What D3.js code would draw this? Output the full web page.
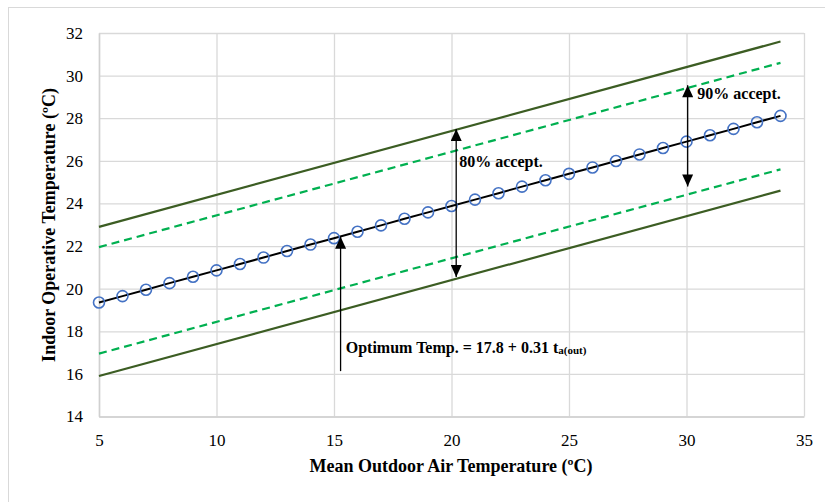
<!DOCTYPE html>
<html>
<head>
<meta charset="utf-8">
<script src="https://cdn.jsdelivr.net/npm/d3@7"></script>
<style>
  body { margin: 0; background: #fff; }
  svg text { font-family: "Liberation Serif", "Times New Roman", serif; }
</style>
</head>
<body>
<svg id="chart" width="825" height="502"></svg>
<script>
// data
var outdoorT = [5, 6, 7, 8, 9, 10, 11, 12, 13, 14, 15, 16, 17, 18, 19, 20, 21, 22, 23, 24, 25, 26, 27, 28, 29, 30, 31, 32, 33, 34];
var optimumT = [19.35, 19.65, 19.95, 20.26, 20.56, 20.86, 21.16, 21.46, 21.77, 22.07, 22.37, 22.67, 22.97, 23.28, 23.58,
                23.88, 24.18, 24.48, 24.79, 25.09, 25.39, 25.69, 25.99, 26.30, 26.60, 26.90, 27.20, 27.50, 27.81, 28.11];
var bandX = [5, 34];
var upper80 = [22.9, 31.6];
var upper90 = [21.95, 30.6];
var lower90 = [16.95, 25.6];
var lower80 = [15.9, 24.6];
var xTicks = [5, 10, 15, 20, 25, 30, 35];
var yTicks = [14, 16, 18, 20, 22, 24, 26, 28, 30, 32];

var svg = d3.select("#chart");

// outer frame
svg.append("rect")
  .attr("x", 8.5).attr("y", 7.5)
  .attr("width", 830).attr("height", 520)
  .attr("fill", "none").attr("stroke", "#d9d9d9");

var plotL = 99, plotT = 33, plotR = 804, plotB = 416.5;

var x = d3.scaleLinear().domain([5, 35]).range([plotL, plotR]);
var y = d3.scaleLinear().domain([14, 32]).range([plotB, plotT]);

// gridlines
svg.append("g")
  .attr("transform", "translate(0," + plotB + ")")
  .call(d3.axisBottom(x).tickValues(xTicks).tickSize(-(plotB - plotT)).tickFormat(""))
  .call(function(g) {
    g.select(".domain").remove();
    g.selectAll("line").attr("stroke", "#d9d9d9").attr("stroke-width", 1.3);
  });

svg.append("g")
  .attr("transform", "translate(" + plotL + ",0)")
  .call(d3.axisLeft(y).tickValues(yTicks).tickSize(-(plotR - plotL)).tickFormat(""))
  .call(function(g) {
    g.select(".domain").remove();
    g.selectAll("line").attr("stroke", "#d9d9d9").attr("stroke-width", 1.3);
  });

// axes with labels
var xAxis = svg.append("g")
  .attr("transform", "translate(0," + plotB + ")")
  .call(d3.axisBottom(x).tickValues(xTicks).tickSize(0).tickPadding(17));
var yAxis = svg.append("g")
  .attr("transform", "translate(" + plotL + ",0)")
  .call(d3.axisLeft(y).tickValues(yTicks).tickSize(0).tickPadding(16));

[xAxis, yAxis].forEach(function(a) {
  a.select(".domain").attr("stroke", "#d0d0d0").attr("stroke-width", 1.5);
  a.selectAll("text")
    .style("font-family", "'Liberation Serif', 'Times New Roman', serif")
    .style("font-size", "17px")
    .attr("fill", "#000");
});

// band lines
var line = d3.line()
  .x(function(d) { return x(d[0]); })
  .y(function(d) { return y(d[1]); });

function band(vals, color, dash) {
  svg.append("path")
    .datum(bandX.map(function(v, i) { return [v, vals[i]]; }))
    .attr("d", line)
    .attr("fill", "none")
    .attr("stroke", color)
    .attr("stroke-width", 2.2)
    .attr("stroke-dasharray", dash);
}

band(upper80, "#3c5d23", null);
band(lower80, "#3c5d23", null);
band(upper90, "#00b050", "8,5");
band(lower90, "#00b050", "8,5");

// optimum line and markers
var optData = outdoorT.map(function(v, i) { return [v, optimumT[i]]; });

svg.append("path")
  .datum(optData)
  .attr("d", line)
  .attr("fill", "none")
  .attr("stroke", "#000")
  .attr("stroke-width", 2);

svg.selectAll("circle.opt")
  .data(optData)
  .enter()
  .append("circle")
  .attr("class", "opt")
  .attr("cx", function(d) { return x(d[0]); })
  .attr("cy", function(d) { return y(d[1]); })
  .attr("r", 5.5)
  .attr("fill", "none")
  .attr("stroke", "#4472c4")
  .attr("stroke-width", 1.6);

// arrowheads
svg.append("defs").append("marker")
  .attr("id", "head")
  .attr("viewBox", "0 0 12 11")
  .attr("refX", 12).attr("refY", 5.5)
  .attr("markerUnits", "userSpaceOnUse")
  .attr("markerWidth", 13).attr("markerHeight", 11)
  .attr("orient", "auto-start-reverse")
  .append("path")
  .attr("d", "M0,0 L12,5.5 L0,11 Z")
  .attr("fill", "#000");

function arrow(xv, y1, y2, both) {
  var p = svg.append("line")
    .attr("x1", x(xv)).attr("x2", x(xv))
    .attr("y1", y(y1)).attr("y2", y(y2))
    .attr("stroke", "#000")
    .attr("stroke-width", 1.3)
    .attr("marker-end", "url(#head)");
  if (both) p.attr("marker-start", "url(#head)");
}

arrow(20.2, 20.55, 27.5, true);
arrow(30.05, 24.8, 29.55, true);
arrow(15.28, 16.13, 22.44, false);

// annotation labels
function label(xv, yv, txt) {
  return svg.append("text")
    .attr("x", x(xv)).attr("y", y(yv))
    .style("font-size", "16px")
    .style("font-weight", "bold")
    .text(txt);
}

label(20.33, 25.72, "80% accept.");
label(30.46, 28.89, "90% accept.");
var opt = label(15.5, 17.0, "Optimum Temp. = 17.8 + 0.31 t");
opt.append("tspan")
  .style("font-size", "11px")
  .attr("dy", 1)
  .text("a(out)");

// axis titles
svg.append("text")
  .attr("x", 451).attr("y", 472)
  .attr("text-anchor", "middle")
  .style("font-size", "18px")
  .style("font-weight", "bold")
  .text("Mean Outdoor Air Temperature (ºC)");

svg.append("text")
  .attr("transform", "translate(55,225) rotate(-90)")
  .attr("text-anchor", "middle")
  .style("font-size", "18px")
  .style("font-weight", "bold")
  .text("Indoor Operative Temperature (ºC)");
</script>
</body>
</html>
